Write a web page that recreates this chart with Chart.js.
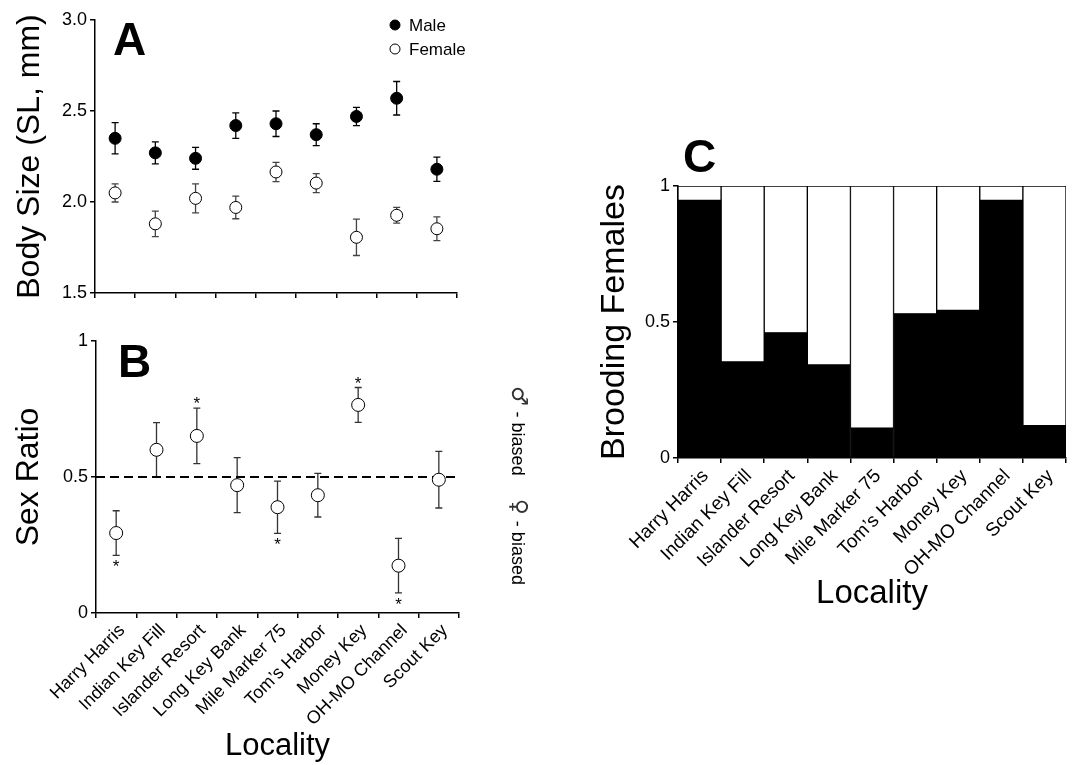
<!DOCTYPE html>
<html><head><meta charset="utf-8">
<script src="https://cdn.jsdelivr.net/npm/chart.js@4.4.0/dist/chart.umd.min.js"></script>
<style>
html,body{margin:0;padding:0;background:#fff;width:1075px;height:765px;overflow:hidden}
.w{position:absolute}
</style></head><body>
<div class="w" style="left:0;top:0;width:560px;height:310px"><canvas id="cA"></canvas></div>
<div class="w" style="left:0;top:320px;width:560px;height:445px"><canvas id="cB"></canvas></div>
<div class="w" style="left:580px;top:120px;width:495px;height:500px"><canvas id="cC"></canvas></div>
<script>
// ---------- DATA ----------
const localities = ['Harry Harris','Indian Key Fill','Islander Resort','Long Key Bank','Mile Marker 75','Tom\u2019s Harbor','Money Key','OH-MO Channel','Scout Key'];
const seriesNames = ['Male','Female'];
const maleSize      = [2.35, 2.27, 2.24, 2.42, 2.43, 2.37, 2.47, 2.57, 2.18];
const maleSizeErr   = [0.086,0.06, 0.06, 0.07, 0.07, 0.06, 0.05, 0.092,0.067];
const femaleSize    = [2.05, 1.88, 2.02, 1.97, 2.165,2.104,1.806,1.927,1.853];
const femaleSizeErr = [0.05, 0.07, 0.08, 0.062,0.053,0.052,0.10, 0.043,0.065];
const sexRatio      = [0.294,0.60, 0.651,0.47, 0.389,0.433,0.765,0.174,0.49];
const sexRatioErr   = [0.082,0.10, 0.102,0.101,0.096,0.08, 0.064,0.10, 0.104];
const sexRatioSig   = [-1, 0, 1, 0, -1, 0, 1, -1, 0]; // -1: asterisk below, 1: above
const neutralRatio  = 0.5;
const broodingFemales = [0.947,0.353,0.46,0.342,0.11,0.53,0.543,0.947,0.119];
const bodySizeTicks = [1.5, 2.0, 2.5, 3.0];
const sexRatioTicks = [0, 0.5, 1];
const broodingTicks = [0, 0.5, 1];
const biasSymbols = ['\u2642', '\u2640'];
const biasText = ' - biased';

// ---------- SETUP ----------
const FONT = "'Liberation Sans', Arial, Helvetica, sans-serif";
Chart.defaults.font.family = FONT;
Chart.defaults.color = '#000';
Chart.defaults.animation = false;
Chart.defaults.plugins.legend.display = false;
Chart.defaults.plugins.tooltip.enabled = false;

const errorBars = {
  id: 'errorBars',
  beforeDatasetsDraw(chart) {
    const ctx = chart.ctx, ys = chart.scales.y;
    chart.data.datasets.forEach((ds, di) => {
      if (!ds.errors) return;
      const meta = chart.getDatasetMeta(di);
      ctx.save();
      ctx.strokeStyle = ds.errorColor || '#000';
      ctx.lineWidth = 1.3;
      meta.data.forEach((pt, i) => {
        const v = ds.data[i], e = ds.errors[i];
        const x = pt.x, yt = ys.getPixelForValue(v + e), yb = ys.getPixelForValue(v - e);
        const c = 3.5;
        ctx.beginPath();
        ctx.moveTo(x, yt); ctx.lineTo(x, yb);
        ctx.moveTo(x - c, yt); ctx.lineTo(x + c, yt);
        ctx.moveTo(x - c, yb); ctx.lineTo(x + c, yb);
        ctx.stroke();
      });
      ctx.restore();
    });
  }
};

function panelLetter(letter, x, y) {
  return {
    id: 'letter' + letter,
    afterDraw(chart) {
      const ctx = chart.ctx;
      ctx.save();
      ctx.font = 'bold 46px ' + FONT;
      ctx.fillStyle = '#000';
      ctx.textAlign = 'left';
      ctx.textBaseline = 'alphabetic';
      ctx.fillText(letter, x, y);
      ctx.restore();
    }
  };
}

function fixedTicks(arr) {
  return function (scale) { scale.ticks = arr.map(v => ({ value: v })); };
}

const axisCommon = {
  border: { display: true, color: '#000', width: 1.5 },
  grid: { drawOnChartArea: false, color: '#000', lineWidth: 1.5, tickLength: 5 }
};

// ---------- PANEL A ----------
const legendA = {
  id: 'legendA',
  afterDraw(chart) {
    const ctx = chart.ctx;
    ctx.save();
    ctx.font = '17px ' + FONT;
    ctx.textBaseline = 'middle';
    ctx.fillStyle = '#000';
    chart.data.datasets.forEach((ds, i) => {
      const cy = 25 + i * 24;
      ctx.beginPath();
      ctx.arc(395, cy, 5, 0, Math.PI * 2);
      ctx.fillStyle = ds.pointBackgroundColor;
      ctx.fill();
      ctx.lineWidth = 1;
      ctx.strokeStyle = '#000';
      ctx.stroke();
      ctx.fillStyle = '#000';
      ctx.fillText(ds.label, 409, cy + 1);
    });
    ctx.restore();
  }
};

new Chart(document.getElementById('cA'), {
  type: 'line',
  data: {
    labels: localities,
    datasets: [
      { label: seriesNames[0], data: maleSize, errors: maleSizeErr, errorColor: '#000',
        showLine: false, pointRadius: 6, pointBackgroundColor: '#000', pointBorderColor: '#000', pointBorderWidth: 1 },
      { label: seriesNames[1], data: femaleSize, errors: femaleSizeErr, errorColor: '#444',
        showLine: false, pointRadius: 6, pointBackgroundColor: '#fff', pointBorderColor: '#000', pointBorderWidth: 1 }
    ]
  },
  options: {
    responsive: true, maintainAspectRatio: false, devicePixelRatio: 1,
    layout: { padding: { top: 20, right: 103, bottom: 0, left: 0 } },
    scales: {
      x: { ...axisCommon, offset: true, grid: { ...axisCommon.grid, offset: true },
        ticks: { display: false },
        afterFit(s) { s.height = 17; s.paddingLeft = 0; s.paddingRight = 0; } },
      y: { ...axisCommon, min: 1.5, max: 3.0,
        afterBuildTicks: fixedTicks(bodySizeTicks),
        ticks: { font: { size: 18 }, padding: 3, callback: v => v.toFixed(1) },
        title: { display: true, text: 'Body Size (SL, mm)', font: { size: 32 }, padding: { top: 11 } },
        afterFit(s) { s.width = 95; } }
    }
  },
  plugins: [errorBars, legendA, panelLetter('A', 113, 55)]
});

// ---------- PANEL B ----------
const sexRatioExtras = {
  id: 'sexRatioExtras',
  beforeDatasetsDraw(chart) {
    const ctx = chart.ctx, ys = chart.scales.y, a = chart.chartArea;
    const y = ys.getPixelForValue(neutralRatio);
    ctx.save();
    ctx.strokeStyle = '#000';
    ctx.lineWidth = 2;
    ctx.setLineDash([9, 5]);
    ctx.beginPath(); ctx.moveTo(a.left, y); ctx.lineTo(a.right, y); ctx.stroke();
    ctx.restore();
  },
  afterDraw(chart) {
    const ctx = chart.ctx, ys = chart.scales.y, a = chart.chartArea;
    const meta = chart.getDatasetMeta(0);
    ctx.save();
    ctx.fillStyle = '#000';
    ctx.font = '17px ' + FONT;
    ctx.textAlign = 'center';
    ctx.textBaseline = 'alphabetic';
    sexRatioSig.forEach((s, i) => {
      if (!s) return;
      const x = meta.data[i].x;
      const end = ys.getPixelForValue(sexRatio[i] + s * sexRatioErr[i]);
      const cy = end - s * 8;
      ctx.fillText('*', x, cy + 9);
    });
    // bias labels (rotated, reading top to bottom)
    const cx = a.right + 59;
    [ys.getPixelForValue(0.835), ys.getPixelForValue(0.42)].forEach((y0, k) => {
      ctx.save();
      ctx.translate(cx, y0);
      ctx.rotate(Math.PI / 2);
      ctx.textAlign = 'left';
      ctx.textBaseline = 'middle';
      ctx.fillStyle = '#333';
      ctx.font = '22px "DejaVu Sans", sans-serif';
      ctx.fillText(biasSymbols[k], 0, 0);
      const w = ctx.measureText(biasSymbols[k]).width;
      ctx.fillStyle = '#000';
      ctx.font = '18px ' + FONT;
      ctx.fillText(biasText, w + 1, 1);
      ctx.restore();
    });
    ctx.restore();
  }
};

new Chart(document.getElementById('cB'), {
  type: 'line',
  data: {
    labels: localities,
    datasets: [
      { label: 'Sex Ratio', data: sexRatio, errors: sexRatioErr, errorColor: '#333',
        showLine: false, pointRadius: 6.5, pointBackgroundColor: '#fff', pointBorderColor: '#000', pointBorderWidth: 1 }
    ]
  },
  options: {
    responsive: true, maintainAspectRatio: false, devicePixelRatio: 1,
    layout: { padding: { top: 21, right: 101, bottom: 0, left: 0 } },
    scales: {
      x: { ...axisCommon, offset: true, grid: { ...axisCommon.grid, offset: true },
        ticks: { font: { size: 18 }, minRotation: 45, maxRotation: 45, autoSkip: false, padding: 2, labelOffset: 6 },
        title: { display: true, text: 'Locality', font: { size: 31 }, padding: { bottom: 0, top: 0 } },
        afterFit(s) { s.height = 152; s.paddingLeft = 0; s.paddingRight = 0; } },
      y: { ...axisCommon, min: 0, max: 1,
        afterBuildTicks: fixedTicks(sexRatioTicks),
        ticks: { font: { size: 18 }, padding: 3, callback: v => String(v) },
        title: { display: true, text: 'Sex Ratio', font: { size: 32 }, padding: { top: 10 } },
        afterFit(s) { s.width = 96; } }
    }
  },
  plugins: [errorBars, sexRatioExtras, panelLetter('B', 118, 57)]
});

// ---------- PANEL C ----------
new Chart(document.getElementById('cC'), {
  type: 'bar',
  data: {
    labels: localities,
    datasets: [
      { label: 'Brooding', data: broodingFemales, backgroundColor: '#000', borderColor: '#000', borderWidth: 1,
        categoryPercentage: 1, barPercentage: 1, borderSkipped: false },
      { label: 'Non-brooding', data: broodingFemales.map(v => 1 - v), backgroundColor: '#fff', borderColor: '#000', borderWidth: 1,
        categoryPercentage: 1, barPercentage: 1, borderSkipped: false }
    ]
  },
  options: {
    responsive: true, maintainAspectRatio: false, devicePixelRatio: 1,
    layout: { padding: { top: 66, right: 9, bottom: 0, left: 0 } },
    scales: {
      x: { ...axisCommon, stacked: true, offset: true, grid: { ...axisCommon.grid, offset: true },
        ticks: { font: { size: 19 }, minRotation: 45, maxRotation: 45, autoSkip: false, padding: 2, labelOffset: 6 },
        title: { display: true, text: 'Locality', font: { size: 33 }, padding: { bottom: 6 } },
        afterFit(s) { s.height = 162; s.paddingLeft = 0; s.paddingRight = 0; } },
      y: { ...axisCommon, stacked: true, min: 0, max: 1,
        afterBuildTicks: fixedTicks(broodingTicks),
        ticks: { font: { size: 18 }, padding: 3, callback: v => String(v) },
        title: { display: true, text: 'Brooding Females', font: { size: 34 }, padding: { top: 14 } },
        afterFit(s) { s.width = 98; } }
    }
  },
  plugins: [panelLetter('C', 103, 52)]
});
</script>
</body></html>
